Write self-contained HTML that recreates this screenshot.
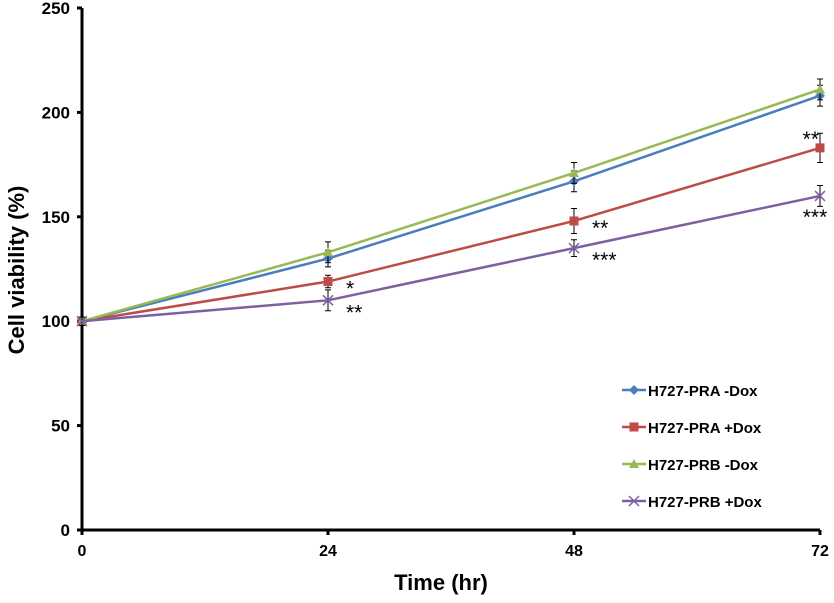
<!DOCTYPE html>
<html><head><meta charset="utf-8">
<style>
html,body{margin:0;padding:0;background:#fff;}
svg{display:block;font-family:"Liberation Sans",Arial,sans-serif;}
</style></head>
<body>
<svg id="chart" width="834" height="603" viewBox="0 0 834 603">
  <g id="axes"></g>
  <g id="series"></g>
  <text x="441" y="590" text-anchor="middle" font-size="22" font-weight="bold">Time (hr)</text>
  <text transform="translate(24,270) rotate(-90)" text-anchor="middle" font-size="22" font-weight="bold">Cell viability (%)</text>
  <g id="legend"></g>
</svg>
<script>
const xTicks = [0, 24, 48, 72];
const yTicks = [0, 50, 100, 150, 200, 250];
const seriesNames = ["H727-PRA -Dox", "H727-PRA +Dox", "H727-PRB -Dox", "H727-PRB +Dox"];
const praMinus = [100, 130, 167, 208];
const praPlus = [100, 119, 148, 183];
const prbMinus = [100, 133, 171, 211];
const prbPlus = [100, 110, 135, 160];
const praMinusErr = [2, 4, 5, 5];
const praPlusErr = [2, 3, 6, 7];
const prbMinusErr = [2, 5, 5, 5];
const prbPlusErr = [2, 5, 4, 5];
const praPlusSig = ["", "*", "**", "**"];
const prbPlusSig = ["", "**", "***", "***"];

const NS = "http://www.w3.org/2000/svg";
const X0 = 82, X1 = 820, Y0 = 530, Y1 = 8;
const xs = v => X0 + (v - 0) / 72 * (X1 - X0);
const ys = v => Y0 - v / 250 * (Y0 - Y1);
function mk(tag, attrs, parent) {
  const e = document.createElementNS(NS, tag);
  for (const k in attrs) e.setAttribute(k, attrs[k]);
  parent.appendChild(e);
  return e;
}
const axes = document.getElementById('axes');
let l = mk('line', {x1: X0, y1: Y1, x2: X0, y2: Y0, stroke: '#000', 'stroke-width': 3}, axes);


l = mk('line', {x1: X0, y1: Y0, x2: X1, y2: Y0, stroke: '#000', 'stroke-width': 3}, axes);


yTicks.forEach(t => {
  mk('line', {x1: X0 - 5, y1: ys(t), x2: X0, y2: ys(t), stroke: '#000', 'stroke-width': 3}, axes);
  const tx = mk('text', {x: X0 - 12, y: ys(t) + 6, 'text-anchor': 'end', 'font-size': 17, 'font-weight': 'bold'}, axes);
  tx.textContent = t;
  
  
});
xTicks.forEach(t => {
  mk('line', {x1: xs(t), y1: Y0, x2: xs(t), y2: Y0 + 5, stroke: '#000', 'stroke-width': 3}, axes);
  const tx = mk('text', {x: xs(t), y: Y0 + 26, 'text-anchor': 'middle', 'font-size': 16, 'font-weight': 'bold'}, axes);
  tx.textContent = t;
  
  
});

const colors = ['#4a7ebb', '#be4b48', '#98b954', '#7d60a0'];
const markers = ['diamond', 'square', 'triangle', 'x'];
const allVals = [praMinus, praPlus, prbMinus, prbPlus];
const allErr = [praMinusErr, praPlusErr, prbMinusErr, prbPlusErr];
const sg = document.getElementById('series');
function marker(type, cx, cy, c, g) {
  if (type === 'diamond') return mk('polygon', {points: `${cx},${cy-5} ${cx+5},${cy} ${cx},${cy+5} ${cx-5},${cy}`, fill: c}, g);
  if (type === 'square') return mk('rect', {x: cx - 4.5, y: cy - 4.5, width: 9, height: 9, fill: c}, g);
  if (type === 'triangle') return mk('polygon', {points: `${cx},${cy-5} ${cx+5},${cy+4} ${cx-5},${cy+4}`, fill: c}, g);
  return mk('path', {d: `M${cx-5},${cy-5}L${cx+5},${cy+5}M${cx-5},${cy+5}L${cx+5},${cy-5}`, stroke: c, 'stroke-width': 1.5}, g);
}
allVals.forEach((vals, si) => {
  const g = mk('g', {}, sg);
  
  
  vals.forEach((v, i) => {
    const e = allErr[si][i], x = xs(xTicks[i]);
    mk('path', {d: `M${x},${ys(v+e)}V${ys(v-e)}M${x-3},${ys(v+e)}H${x+3}M${x-3},${ys(v-e)}H${x+3}`, stroke: '#000', 'stroke-width': 1, fill: 'none'}, g);
  });
  const pl = mk('polyline', {points: vals.map((v, i) => xs(xTicks[i]) + ',' + ys(v)).join(' '), fill: 'none', stroke: colors[si], 'stroke-width': 2.5}, g);
  
  
  vals.forEach((v, i) => {
    const m = marker(markers[si], xs(xTicks[i]), ys(v), colors[si], g);
    
    
  });
});
function sig(labels, vals, dx, dy, lastDy, lastAnchor, lastX) {
  labels.forEach((s, i) => {
    if (!s) return;
    const last = i === 3;
    const t = mk('text', {x: last ? xs(xTicks[i]) + lastX : xs(xTicks[i]) + dx, y: ys(vals[i]) + (last ? lastDy : dy), 'text-anchor': last ? lastAnchor : 'start', 'font-size': 21}, sg);
    t.textContent = s;
    
    
  });
}
sig(praPlusSig, praPlus, 18, 14, -2, 'end', -1);
sig(prbPlusSig, prbPlus, 18, 19, 28, 'middle', -5);

const lg = document.getElementById('legend');
seriesNames.forEach((n, i) => {
  const y = 390 + i * 37;
  const g = mk('g', {}, lg);
  
  
  mk('line', {x1: 622, y1: y, x2: 646, y2: y, stroke: colors[i], 'stroke-width': 2.5}, g);
  marker(markers[i], 634, y, colors[i], g);
  const t = mk('text', {x: 648, y: y + 6, 'font-size': 15, 'font-weight': 'bold'}, g);
  t.textContent = n;
});
</script>
</body></html>
